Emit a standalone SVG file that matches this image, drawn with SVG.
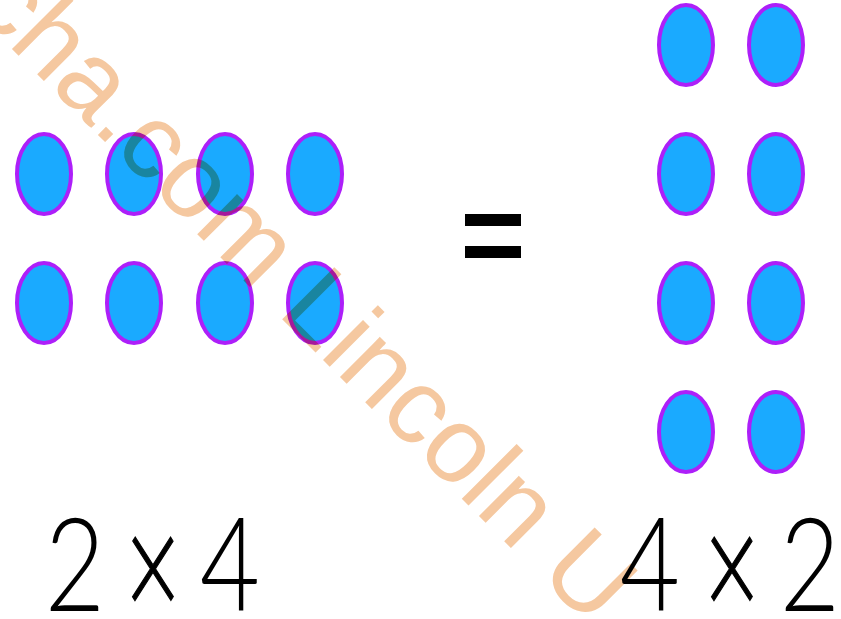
<svg xmlns="http://www.w3.org/2000/svg" width="841" height="619" viewBox="0 0 841 619">
<defs>
<style>
.dot{fill:#1aaaff;stroke:#ad1ff9;stroke-width:4}
.num{font-family:"Lato","Liberation Sans",sans-serif;font-weight:300;font-size:130px;fill:#000;text-anchor:middle}
.times{stroke:#000;stroke-width:1.2}
.wm{font-family:"Liberation Sans",Arial,sans-serif;font-size:107px;fill:#f5c8a0;mix-blend-mode:multiply}
</style>
<ellipse id="e" class="dot" cx="0" cy="0" rx="27" ry="40"/>
</defs>
<rect width="841" height="619" fill="#fff"/>
<g id="left-array">
<use href="#e" x="44" y="174"/><use href="#e" x="134" y="174"/><use href="#e" x="225" y="174"/><use href="#e" x="315" y="174"/>
<use href="#e" x="44" y="303"/><use href="#e" x="134" y="303"/><use href="#e" x="225" y="303"/><use href="#e" x="315" y="303"/>
</g>
<g id="right-array">
<use href="#e" x="686" y="45"/><use href="#e" x="776" y="45"/>
<use href="#e" x="686" y="174"/><use href="#e" x="776" y="174"/>
<use href="#e" x="686" y="303"/><use href="#e" x="776" y="303"/>
<use href="#e" x="686" y="432"/><use href="#e" x="776" y="432"/>
</g>
<g id="equals">
<rect x="465" y="214" width="56" height="12" fill="#000"/>
<rect x="465" y="246" width="56" height="12" fill="#000"/>
</g>
<g id="label-left">
<text class="num" transform="translate(75,611) scale(0.8,1)">2</text>
<text class="num times" transform="translate(153,619) scale(0.74,1.15)">×</text>
<text class="num" transform="translate(230,611) scale(0.8,1)">4</text>
</g>
<g id="label-right">
<text class="num" transform="translate(650,611) scale(0.8,1)">4</text>
<text class="num times" transform="translate(732,619) scale(0.74,1.15)">×</text>
<text class="num" transform="translate(810,611) scale(0.8,1)">2</text>
</g>
<g id="connectors"/>
<text class="wm" transform="translate(-31,6) rotate(45)">cha.com Lincoln U</text>
</svg>
